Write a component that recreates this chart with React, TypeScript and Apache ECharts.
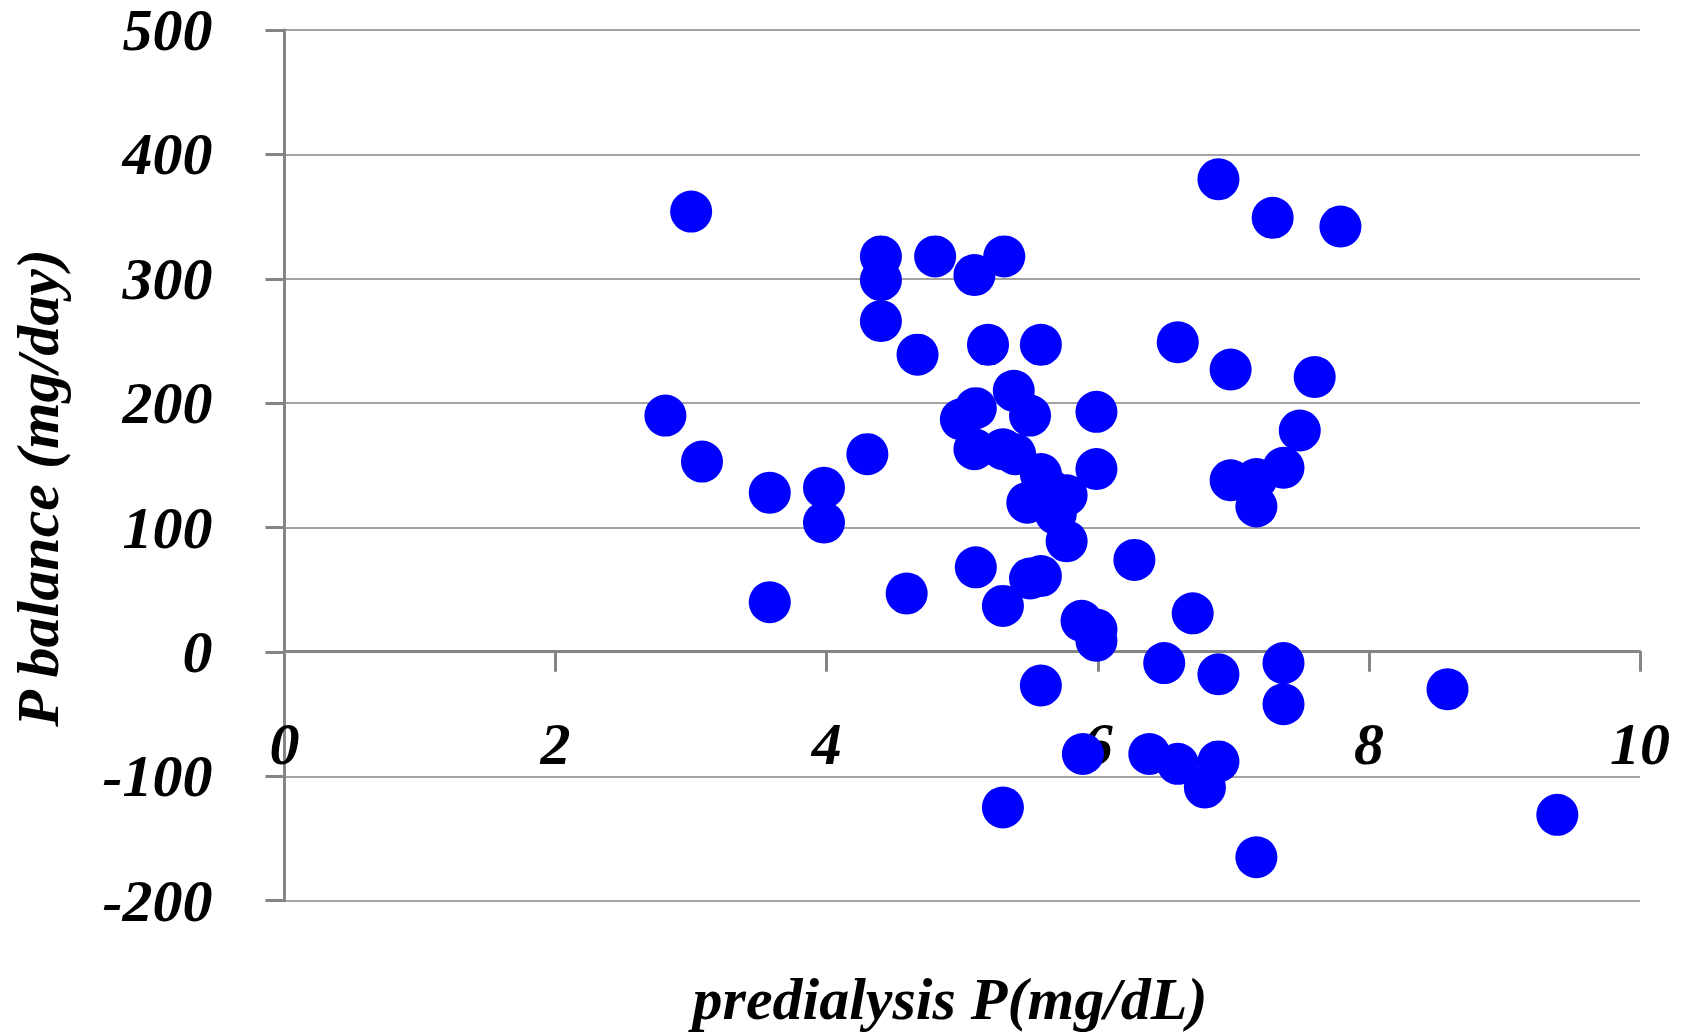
import React, { useEffect, useRef } from "react";
import * as echarts from "echarts";

const predialysisP: number[] = [
  3.0, 2.81, 3.08, 3.58, 3.58, 3.98, 3.98, 4.3, 4.4, 4.4, 4.4, 4.67, 4.59, 4.8,
  5.09, 5.31, 5.19, 5.58, 5.38, 5.5, 4.99, 5.1, 5.09, 5.3, 5.39, 5.58, 5.48,
  5.65, 5.77, 5.69, 5.77, 5.99, 5.99, 5.1, 5.5, 5.58, 5.3, 6.27, 5.88, 5.99,
  5.99, 5.58, 6.49, 6.7, 6.59, 6.89, 6.98, 7.29, 7.79, 7.6, 7.49, 7.37, 6.98,
  7.17, 7.17, 6.89, 7.37, 7.37, 8.58, 9.39, 7.17, 5.89, 6.38, 6.59, 6.89, 6.79,
  5.3,
];
const pBalance: number[] = [
  354, 190, 153, 128, 40, 132, 104, 159, 318, 299, 266, 239, 47, 318, 303, 318,
  247, 247, 210, 190, 187, 196, 163, 163, 159, 143, 120, 130, 126, 111, 89, 193,
  147, 68, 59, 61, 37, 74, 25, 18, 9, -27, -9, 31, 249, 380, 227, 349, 342, 221,
  178, 148, 138, 139, 117, -18, -9, -42, -30, -131, -165, -82, -82, -90, -88,
  -109, -125,
];
const xTicks: number[] = [0, 2, 4, 6, 8, 10];
const yTicks: number[] = [-200, -100, 0, 100, 200, 300, 400, 500];

const xTitle = "predialysis P(mg/dL)";
const yTitle = "P balance (mg/day)";

const FONT = "Liberation Serif";

export default function App() {
  const ref = useRef<HTMLDivElement>(null);
  useEffect(() => {
    if (!ref.current) return;
    const chart = echarts.init(ref.current, null, { renderer: "svg" });
    const data = predialysisP.map((x, i) => [x, pBalance[i]]);
    const labelStyle = {
      fontFamily: FONT,
      fontWeight: "bold" as const,
      fontStyle: "italic" as const,
      fontSize: 60,
      lineHeight: 44,
      color: "#000",
    };
    const gridTop = 29.3;
    const gridBottomY = 900.7;
    const yMin = yTicks[0];
    const yMax = yTicks[yTicks.length - 1];
    // distance from the bottom of the grid up to the value 0 (the x-axis crosses there)
    const zeroOffset = ((0 - yMin) / (yMax - yMin)) * (gridBottomY - gridTop);
    chart.setOption({
      animation: false,
      backgroundColor: "#fff",
      grid: { left: 284.5, right: 42, top: gridTop, bottom: 1036 - gridBottomY, containLabel: false },
      xAxis: {
        type: "value",
        min: xTicks[0],
        max: xTicks[xTicks.length - 1],
        interval: 2,
        offset: -zeroOffset,
        axisLine: { show: true, onZero: false, lineStyle: { color: "#858585", width: 3 } },
        axisTick: { show: true, inside: false, length: 20, lineStyle: { color: "#858585", width: 3 } },
        axisLabel: { ...labelStyle, margin: 70 },
        splitLine: { show: false },
      },
      yAxis: {
        type: "value",
        min: yMin,
        max: yMax,
        interval: 100,
        axisLine: { show: true, onZero: false, lineStyle: { color: "#858585", width: 3 } },
        axisTick: { show: true, inside: false, length: 19, lineStyle: { color: "#858585", width: 3 } },
        axisLabel: { ...labelStyle, margin: 72 },
        splitLine: { show: true, lineStyle: { color: "#858585", width: 1.5 } },
      },
      graphic: [
        {
          type: "text",
          x: 950,
          y: 999,
          style: {
            text: xTitle,
            align: "center",
            verticalAlign: "middle",
            font: `italic bold 60px "${FONT}"`,
            fill: "#000",
          },
        },
        {
          type: "text",
          x: 38,
          y: 488,
          rotation: Math.PI / 2,
          style: {
            text: yTitle,
            align: "center",
            verticalAlign: "middle",
            font: `italic bold 60px "${FONT}"`,
            fill: "#000",
          },
        },
      ],
      series: [
        {
          type: "scatter",
          data,
          symbol: "circle",
          symbolSize: 42,
          itemStyle: { color: "#0000FF", opacity: 1 },
          emphasis: { disabled: true },
        },
      ],
    });
    return () => chart.dispose();
  }, []);
  return (
    <div
      ref={ref}
      style={{ position: "fixed", left: 0, top: 0, width: 1682, height: 1036 }}
    />
  );
}
